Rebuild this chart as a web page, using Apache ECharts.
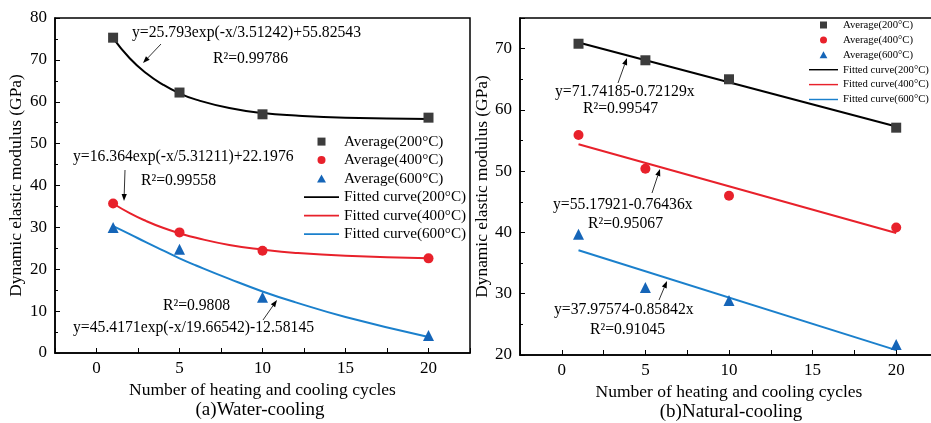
<!DOCTYPE html>
<html><head><meta charset="utf-8">
<script src="https://cdn.jsdelivr.net/npm/echarts@6/dist/echarts.min.js"></script>
<style>html,body{margin:0;padding:0;background:#fff}#c{width:931px;height:423px}</style>
</head><body><div id="c"></div>
<script>
// ---- data ----
const cycles = [1, 5, 10, 20];
const waterAvg200 = [75.3, 62.2, 57.0, 56.2];
const waterAvg400 = [35.7, 28.8, 24.4, 22.6];
const waterAvg600 = [30.0, 24.8, 13.3, 4.2];
const naturalAvg200 = [70.8, 68.1, 65.0, 57.1];
const naturalAvg400 = [55.9, 50.4, 46.0, 40.8];
const naturalAvg600 = [39.7, 31.0, 28.9, 21.7];
// fitted curves, values
const fitX = [1, 2, 3, 4, 5, 6, 8, 10, 12, 15, 20];
const waterFit200 = [75.2, 70.4, 66.8, 64.1, 62.0, 60.5, 58.5, 57.3, 56.7, 56.2, 55.9];
const waterFit400 = [35.7, 33.4, 31.5, 29.9, 28.6, 27.5, 25.8, 24.7, 23.9, 23.2, 22.6];
const waterFit600 = [30.3, 28.4, 26.4, 24.5, 22.6, 20.9, 17.7, 14.7, 12.1, 8.6, 3.8];
const linX = [1, 20];
const naturalFit200 = [71.0, 57.3];
const naturalFit400 = [54.4, 39.9];
const naturalFit600 = [37.1, 20.8];
const xTicks = [0, 5, 10, 15, 20];
const waterYTicks = [0, 10, 20, 30, 40, 50, 60, 70, 80];
const naturalYTicks = [20, 30, 40, 50, 60, 70];
const names = ['Average(200°C)', 'Average(400°C)', 'Average(600°C)',
  'Fitted curve(200°C)', 'Fitted curve(400°C)', 'Fitted curve(600°C)'];

const C_SQ = '#3c3c3c', C_RED = '#e8212b', C_TRI = '#1565b8', C_BLUE = '#1b80cc';
const FONT = '"Liberation Serif", "Times New Roman", serif';
const zip = (xs, ys) => xs.map((x, i) => [x, ys[i]]);

function xAxis(idx) {
  return {
    type: 'value', gridIndex: idx, min: -2.5, max: 22.5, interval: 2.5,
    name: 'Number of heating and cooling cycles', nameLocation: 'middle', nameGap: 27,
    nameTextStyle: { fontFamily: FONT, fontSize: 17.5, color: '#000' },
    axisLine: { show: true, onZero: false, lineStyle: { color: '#000', width: 1.5 } },
    axisTick: { show: true, inside: true, length: 5, lineStyle: { color: '#000', width: 1 } },
    axisLabel: { fontFamily: FONT, fontSize: 17, color: '#000', margin: 7,
      formatter: v => (xTicks.indexOf(Math.round(v * 100) / 100) >= 0 ? String(Math.round(v)) : '') },
    splitLine: { show: false }
  };
}
function yAxis(idx, min, max, ticks, gap) {
  return {
    type: 'value', gridIndex: idx, min: min, max: max, interval: 10,
    name: 'Dynamic elastic modulus (GPa)', nameLocation: 'middle', nameGap: gap,
    nameTextStyle: { fontFamily: FONT, fontSize: 17.4, color: '#000' },
    axisLine: { show: true, onZero: false, lineStyle: { color: '#000', width: 1.5 } },
    axisTick: { show: true, inside: true, length: 5, lineStyle: { color: '#000', width: 1 } },
    minorTick: { show: true, splitNumber: 2, length: 3, lineStyle: { color: '#000', width: 1 } },
    axisLabel: { fontFamily: FONT, fontSize: 17, color: '#000', margin: 8, showMaxLabel: ticks.indexOf(max) >= 0,
      formatter: v => (ticks.indexOf(v) >= 0 ? String(v) : '') },
    splitLine: { show: false }
  };
}
function scatter(name, idx, data, symbol, color) {
  return { type: 'scatter', name: name, xAxisIndex: idx, yAxisIndex: idx, data: data,
    symbol: symbol, symbolSize: symbol === 'triangle' ? 11 : 10, itemStyle: { color: color, opacity: 1 }, z: 3 };
}
function line(name, idx, data, color, smooth) {
  return { type: 'line', name: name, xAxisIndex: idx, yAxisIndex: idx, data: data, symbol: 'none',
    smooth: smooth, lineStyle: { color: color, width: 2 }, itemStyle: { color: color }, z: 2 };
}
const iconSq = 'path://M0,0L10,0L10,10L0,10Z';
const iconCi = 'path://M5,0A5,5,0,1,1,5,10A5,5,0,1,1,5,0Z';
const iconTr = 'path://M5,0L10,9L0,9Z';
const iconLn = 'path://M0,0L40,0L40,2L0,2Z';
function legend(left, top, iw, ih, fs, gap) {
  return {
    orient: 'vertical', left: left, top: top, itemWidth: iw, itemHeight: ih, itemGap: gap,
    symbolKeepAspect: true, selectedMode: false, padding: 0,
    textStyle: { fontFamily: FONT, fontSize: fs, color: '#000', lineHeight: fs },
    data: [
      { name: names[0], icon: iconSq }, { name: names[1], icon: iconCi }, { name: names[2], icon: iconTr },
      { name: names[3], icon: iconLn }, { name: names[4], icon: iconLn }, { name: names[5], icon: iconLn }
    ]
  };
}

function txt(x, y, s, size, align) {
  return { type: 'text', x: x, y: y, z: 10, style: { text: s, fontFamily: FONT, fontSize: size || 15.7,
    fill: '#000', align: align || 'left', verticalAlign: 'middle' } };
}
function arrow(x1, y1, x2, y2) {
  const dx = x2 - x1, dy = y2 - y1, L = Math.sqrt(dx * dx + dy * dy);
  const ux = dx / L, uy = dy / L, hl = 7, hw = 2.6;
  const bx = x2 - ux * hl, by = y2 - uy * hl;
  return { type: 'group', z: 10, children: [
    { type: 'line', shape: { x1: x1, y1: y1, x2: bx, y2: by }, style: { stroke: '#333', lineWidth: 1 } },
    { type: 'polygon', shape: { points: [[x2, y2], [bx - uy * hw, by + ux * hw], [bx + uy * hw, by - ux * hw]] },
      style: { fill: '#000' } }
  ] };
}

const chart = echarts.init(document.getElementById('c'), null, { renderer: 'canvas' });
chart.setOption({
  animation: false,
  backgroundColor: '#fff',
  grid: [
    { left: 55, top: 18, width: 415, height: 335, show: true, borderColor: '#000', borderWidth: 1.5,
      containLabel: false, outerBoundsMode: 'none' },
    { left: 520, top: 18, width: 418, height: 337, show: true, borderColor: '#000', borderWidth: 1.5,
      containLabel: false, outerBoundsMode: 'none' }
  ],
  xAxis: [xAxis(0), xAxis(1)],
  yAxis: [yAxis(0, 0, 80, waterYTicks, 30), yAxis(1, 20, 75, naturalYTicks, 25)],
  legend: [legend(304, 134, 35, 8, 15.2, 3.3), legend(809, 19.5, 29, 7, 10.7, 3.9)],
  series: [
    scatter(names[0], 0, zip(cycles, waterAvg200), 'rect', C_SQ),
    scatter(names[1], 0, zip(cycles, waterAvg400), 'circle', C_RED),
    scatter(names[2], 0, zip(cycles, waterAvg600), 'triangle', C_TRI),
    line(names[3], 0, zip(fitX, waterFit200), '#000', true),
    line(names[4], 0, zip(fitX, waterFit400), C_RED, true),
    line(names[5], 0, zip(fitX, waterFit600), C_BLUE, true),
    scatter(names[0], 1, zip(cycles, naturalAvg200), 'rect', C_SQ),
    scatter(names[1], 1, zip(cycles, naturalAvg400), 'circle', C_RED),
    scatter(names[2], 1, zip(cycles, naturalAvg600), 'triangle', C_TRI),
    line(names[3], 1, zip(linX, naturalFit200), '#000', false),
    line(names[4], 1, zip(linX, naturalFit400), C_RED, false),
    line(names[5], 1, zip(linX, naturalFit600), C_BLUE, false)
  ],
  graphic: [
    txt(132, 33, 'y=25.793exp(-x/3.51242)+55.82543'),
    txt(213, 59, 'R²=0.99786'),
    arrow(161, 44, 143, 63),
    txt(73, 157, 'y=16.364exp(-x/5.31211)+22.1976'),
    txt(141, 181, 'R²=0.99558'),
    arrow(125, 170, 124, 201),
    txt(163, 306, 'R²=0.9808'),
    txt(73, 328, 'y=45.4171exp(-x/19.66542)-12.58145'),
    arrow(263, 320, 277, 300),
    txt(555, 92, 'y=71.74185-0.72129x'),
    txt(583, 109, 'R²=0.99547'),
    arrow(618, 83, 627, 58),
    txt(553, 205, 'y=55.17921-0.76436x'),
    txt(588, 224, 'R²=0.95067'),
    arrow(652, 193, 660, 169),
    txt(554, 310, 'y=37.97574-0.85842x'),
    txt(590, 330, 'R²=0.91045'),
    arrow(659, 300, 667, 281),
    txt(260, 410, '(a)Water-cooling', 19, 'center'),
    txt(731, 412, '(b)Natural-cooling', 19, 'center')
  ]
});
</script></body></html>
